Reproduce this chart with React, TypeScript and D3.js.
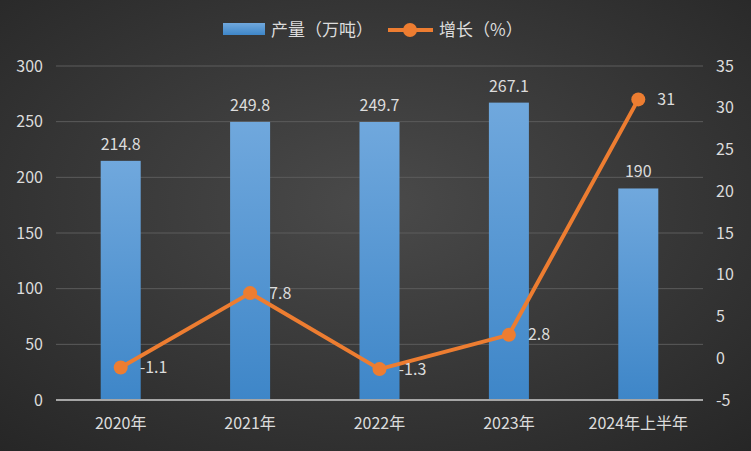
import React from "react";
import * as d3 from "d3";

const categories = ["2020年", "2021年", "2022年", "2023年", "2024年上半年"];
const production = [214.8, 249.8, 249.7, 267.1, 190];
const growth = [-1.1, 7.8, -1.3, 2.8, 31];
const leftTicks = [0, 50, 100, 150, 200, 250, 300];
const rightTicks = [-5, 0, 5, 10, 15, 20, 25, 30, 35];

const W = 751, H = 451;
const margin = { left: 56, right: 48, top: 66, bottom: 51 };
const FONT = "'Noto Sans CJK SC', 'Noto Sans', sans-serif";

export default function App() {
  const x = d3.scaleBand().domain(categories).range([margin.left, W - margin.right]).paddingInner(0).paddingOuter(0);
  const yL = d3.scaleLinear().domain([0, 300]).range([H - margin.bottom, margin.top]);
  const yR = d3.scaleLinear().domain([-5, 35]).range([H - margin.bottom, margin.top]);
  const barW = 40;
  const cx = (c: string) => (x(c) as number) + x.bandwidth() / 2;
  const line = d3.line<number>().x((_, i) => cx(categories[i])).y((d) => yR(d));
  const textColor = "#dcdcdc";

  return (
    <svg width={W} height={H} style={{ position: "absolute", left: 0, top: 0 }} fontFamily={FONT}>
      <defs>
        <radialGradient id="bg" cx="50%" cy="45%" r="75%">
          <stop offset="0%" stopColor="#4a4a4a" />
          <stop offset="100%" stopColor="#262626" />
        </radialGradient>
        <linearGradient id="bar" x1="0" y1="0" x2="0" y2="1">
          <stop offset="0%" stopColor="#70a8dd" />
          <stop offset="100%" stopColor="#3e86c8" />
        </linearGradient>
      </defs>
      <rect x={0} y={0} width={W} height={H} fill="url(#bg)" />
      {leftTicks.map((t) => (
        <g key={t}>
          {t !== 0 && (
            <line x1={margin.left} x2={W - margin.right} y1={yL(t)} y2={yL(t)} stroke="#5c5c5c" strokeWidth={1} />
          )}
          <text x={43} y={yL(t)} dy="0.35em" textAnchor="end" fontSize={16} fill={textColor}>{t}</text>
        </g>
      ))}
      {rightTicks.map((t) => (
        <text key={t} x={716} y={yR(t)} dy="0.35em" textAnchor="start" fontSize={16} fill={textColor}>{t}</text>
      ))}
      {categories.map((c, i) => (
        <g key={c}>
          <rect x={cx(c) - barW / 2} y={yL(production[i])} width={barW} height={yL(0) - yL(production[i])} fill="url(#bar)" />
          <text x={cx(c)} y={yL(production[i]) - 11} textAnchor="middle" fontSize={16} fill={textColor}>{production[i]}</text>
          <text x={cx(c)} y={429} textAnchor="middle" fontSize={16} fill={textColor}>{c}</text>
        </g>
      ))}
      <line x1={margin.left} x2={W - margin.right} y1={yL(0)} y2={yL(0)} stroke="#a6a6a6" strokeWidth={2} />
      <path d={line(growth) || ""} fill="none" stroke="#ed7d31" strokeWidth={4} strokeLinejoin="round" />
      {growth.map((g, i) => (
        <g key={i}>
          <circle cx={cx(categories[i])} cy={yR(g)} r={7} fill="#ed7d31" />
          <text x={cx(categories[i]) + 19} y={yR(g)} dy="0.35em" fontSize={16} fill={textColor}>{g}</text>
        </g>
      ))}
      <g>
        <rect x={223} y={23} width={42} height={12} fill="url(#bar)" />
        <text x={271} y={36} fontSize={17} fill={textColor}>产量（万吨）</text>
        <line x1={388} x2={433} y1={30} y2={30} stroke="#ed7d31" strokeWidth={4} />
        <circle cx={410} cy={30} r={7} fill="#ed7d31" />
        <text x={439} y={36} fontSize={17} fill={textColor}>增长（%）</text>
      </g>
    </svg>
  );
}
